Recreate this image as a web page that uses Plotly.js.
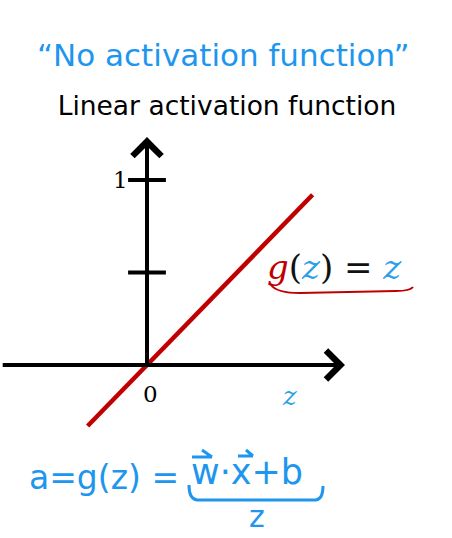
<!DOCTYPE html>
<html>
<head>
<meta charset="utf-8">
<script src="https://cdn.plot.ly/plotly-3.0.1.min.js"></script>
<style>html,body{margin:0;padding:0;background:#fff;}#chart{width:452px;height:538px;}</style>
</head>
<body>
<div id="chart"></div>
<script>
// ---- data ----
const zValues = [-0.33, 0.92];          // z along the red line
const gValues = [-0.33, 0.92];          // g(z) = z
const yTickVals = [0.5, 1];
const yTickText = ['', '1'];
const xTickVals = [0];
const xTickText = ['0'];
const xAxisExtent = [-0.81, 1.1];
const yAxisExtent = [0, 1.232];

const W = 452, H = 538;
const px = v => v / W;
const py = v => 1 - v / H;

const RED = '#c00000';
const BLUE = '#1e96ee';
const LBLUE = '#2aa0e8';

const traces = [
  {
    x: zValues, y: gValues, mode: 'lines', type: 'scatter',
    line: {color: RED, width: 4.5}, hoverinfo: 'skip'
  },
  {
    x: yTickVals.map(() => 0), y: yTickVals, mode: 'markers', type: 'scatter',
    marker: {symbol: 'line-ew', size: 27, color: 'black', line: {color: 'black', width: 4}},
    hoverinfo: 'skip'
  }
];

const annotations = [
  // horizontal axis with arrow
  {x: xAxisExtent[1], y: 0, ax: xAxisExtent[0], ay: 0, xref: 'x', yref: 'y', axref: 'x', ayref: 'y',
   text: ' ', font: {size: 1}, showarrow: true, arrowhead: 4, arrowsize: 1.4, arrowwidth: 4,
   arrowcolor: 'black', standoff: 0, startstandoff: 0},
  // vertical axis with arrow
  {x: 0, y: yAxisExtent[1], ax: 0, ay: yAxisExtent[0], xref: 'x', yref: 'y', axref: 'x', ayref: 'y',
   text: ' ', font: {size: 1}, showarrow: true, arrowhead: 4, arrowsize: 1.4, arrowwidth: 4,
   arrowcolor: 'black', standoff: 0, startstandoff: 0},
  // z label on x axis
  {x: 0.79, y: -0.17, xref: 'x', yref: 'y', xanchor: 'center', yanchor: 'middle', showarrow: false,
   text: '<i>z</i>', font: {family: 'DejaVu Serif', size: 26, color: LBLUE}},
  // g(z) = z
  {x: 1.044, y: 0.53, xref: 'x', yref: 'y', xanchor: 'center', yanchor: 'middle', showarrow: false,
   text: '<span style="color:' + RED + '"><i>g</i></span>(<span style="color:' + LBLUE + '"><i>z</i></span>) = <span style="color:' + LBLUE + '"><i>z</i></span>',
   font: {family: 'DejaVu Serif', size: 34, color: '#111'}},
  // handwritten top note
  {x: px(223), y: py(55), xref: 'paper', yref: 'paper', xanchor: 'center', yanchor: 'middle', showarrow: false,
   text: '\u201CNo activation function\u201D', font: {family: 'DejaVu Sans', size: 31, color: BLUE}},
  // formula
  {x: px(27), y: py(477), xref: 'paper', yref: 'paper', xanchor: 'left', yanchor: 'middle', showarrow: false,
   text: 'a=g(z) =', font: {family: 'DejaVu Sans', size: 33, color: BLUE}},
  {x: px(189), y: py(472), xref: 'paper', yref: 'paper', xanchor: 'left', yanchor: 'middle', showarrow: false,
   text: 'w·x+b', font: {family: 'DejaVu Sans', size: 35, color: BLUE}},
  {x: px(257), y: py(516), xref: 'paper', yref: 'paper', xanchor: 'center', yanchor: 'middle', showarrow: false,
   text: 'z', font: {family: 'DejaVu Sans', size: 30, color: BLUE}}
];

yTickVals.forEach((v, i) => {
  if (yTickText[i]) annotations.push({x: -0.15, y: v, xref: 'x', yref: 'y', xanchor: 'center', yanchor: 'middle',
    showarrow: false, text: yTickText[i], font: {family: 'DejaVu Serif', size: 23, color: 'black'}});
});
xTickVals.forEach((v, i) => {
  annotations.push({x: v, y: -0.155, xref: 'x', yref: 'y', xshift: 3, xanchor: 'center', yanchor: 'middle',
    showarrow: false, text: xTickText[i], font: {family: 'DejaVu Serif', size: 23, color: 'black'}});
});

const P = (x, y) => px(x) + ',' + py(y);
const shapes = [
  // red underline under g(z) = z
  {type: 'path', xref: 'paper', yref: 'paper',
   path: 'M' + P(271, 285) + ' Q' + P(277, 293) + ' ' + P(300, 293) + ' L' + P(396, 291) + ' Q' + P(410, 291) + ' ' + P(413, 287),
   line: {color: RED, width: 2}},
  // blue underbrace
  {type: 'path', xref: 'paper', yref: 'paper',
   path: 'M' + P(189, 485) + ' Q' + P(189, 499) + ' ' + P(197, 500) + ' L' + P(316, 500) + ' Q' + P(323, 499) + ' ' + P(323, 486),
   line: {color: BLUE, width: 3}},
  // vector arrow over w
  {type: 'path', xref: 'paper', yref: 'paper',
   path: 'M' + P(192, 457) + ' L' + P(212, 457) + ' M' + P(202, 450) + ' L' + P(212, 457),
   line: {color: BLUE, width: 3}},
  // vector arrow over x
  {type: 'path', xref: 'paper', yref: 'paper',
   path: 'M' + P(238, 456) + ' L' + P(253, 456) + ' M' + P(246, 450) + ' L' + P(253, 456),
   line: {color: BLUE, width: 3}}
];

const layout = {
  width: W, height: H,
  margin: {l: 0, r: 0, t: 0, b: 0},
  paper_bgcolor: 'white', plot_bgcolor: 'white',
  showlegend: false,
  title: {text: 'Linear activation function', font: {family: 'DejaVu Sans', size: 26.5, color: 'black'},
          x: px(227), xanchor: 'center', y: py(106), yanchor: 'middle'},
  xaxis: {range: [-147 / 180, 305 / 180], visible: false, fixedrange: true},
  yaxis: {range: [-173 / 185, 365 / 185], visible: false, fixedrange: true},
  annotations: annotations,
  shapes: shapes
};

Plotly.newPlot('chart', traces, layout, {displayModeBar: false, staticPlot: true});
</script>
</body>
</html>
